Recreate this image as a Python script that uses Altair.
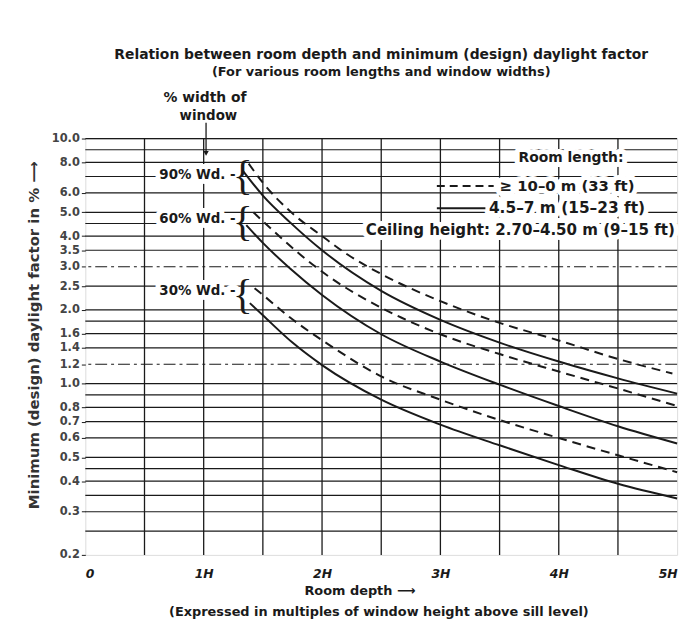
import altair as alt
import pandas as pd

# ---------------- data ----------------
# Room depth (multiples of window height H) and minimum daylight factor (%)
# 90 % window width
x90_long = [1.38, 1.5, 1.75, 2.0, 2.2, 2.5, 3.0, 3.5, 4.0, 4.5, 4.96]
y90_long = [7.9, 6.6, 4.95, 4.0, 3.4, 2.8, 2.17, 1.77, 1.5, 1.26, 1.1]
x90_short = [1.33, 1.5, 1.73, 2.0, 2.5, 3.0, 3.5, 4.0, 4.5, 5.0]
y90_short = [7.4, 5.85, 4.55, 3.5, 2.39, 1.82, 1.47, 1.23, 1.05, 0.91]
# 60 % window width
x60_long = [1.42, 1.5, 1.65, 1.82, 2.05, 2.5, 3.0, 3.5, 4.0, 4.5, 5.0]
y60_long = [5.0, 4.6, 3.95, 3.35, 2.75, 2.04, 1.59, 1.32, 1.12, 0.955, 0.81]
x60_short = [1.36, 1.5, 1.73, 2.0, 2.5, 3.0, 3.5, 4.0, 4.5, 5.0]
y60_short = [4.43, 3.75, 2.95, 2.3, 1.59, 1.23, 0.99, 0.81, 0.67, 0.57]
# 30 % window width
x30_long = [1.43, 1.5, 1.73, 2.05, 2.5, 3.0, 3.5, 4.0, 4.5, 5.0]
y30_long = [2.45, 2.3, 1.86, 1.45, 1.07, 0.86, 0.71, 0.6, 0.51, 0.435]
x30_short = [1.39, 1.5, 1.75, 2.0, 2.5, 3.0, 3.5, 4.0, 4.5, 5.0]
y30_short = [2.13, 1.9, 1.47, 1.19, 0.86, 0.68, 0.56, 0.465, 0.39, 0.34]

y_labels = [10.0, 8.0, 6.0, 5.0, 4.0, 3.5, 3.0, 2.5, 2.0, 1.6, 1.4, 1.2,
            1.0, 0.8, 0.7, 0.6, 0.5, 0.4, 0.3, 0.2]
grid_y_solid = [10, 9, 8, 7, 6, 5, 4.5, 4, 3.5, 2.5, 2.0, 1.8, 1.6, 1.4,
                1.0, 0.9, 0.8, 0.7, 0.6, 0.5, 0.45, 0.4, 0.35, 0.3, 0.25]
grid_y_dashdot = [3.0, 1.2]
grid_x = [0.5, 1, 1.5, 2, 2.5, 3, 3.5, 4, 4.5]
x_labels = [0, 1, 2, 3, 4, 5]

# ---------------- tables ----------------
rows = []
for name, style, xs, ys in [
    ("90L", "long", x90_long, y90_long), ("90S", "short", x90_short, y90_short),
    ("60L", "long", x60_long, y60_long), ("60S", "short", x60_short, y60_short),
    ("30L", "long", x30_long, y30_long), ("30S", "short", x30_short, y30_short),
]:
    for a, b in zip(xs, ys):
        rows.append({"x": a, "y": b, "curve": name, "style": style})
curves = pd.DataFrame(rows)

xscale = alt.Scale(domain=[0, 5], nice=False, zero=False)
yscale = alt.Scale(type="log", domain=[0.2, 10], nice=False)

FONT = "DejaVu Sans"
INK = "#1a1a1a"

# invisible layer that carries both axes
axes_layer = alt.Chart(curves).mark_point(opacity=0).encode(
    x=alt.X("x:Q", scale=xscale,
            axis=alt.Axis(values=x_labels, grid=False, ticks=False, domain=False,
                          labelExpr="datum.value == 0 ? '0' : datum.value + 'H'",
                          labelFont=FONT, labelFontSize=12.5, labelFontWeight="bold",
                          labelFontStyle="italic", labelColor=INK, labelPadding=13,
                          title=None)),
    y=alt.Y("y:Q", scale=yscale,
            axis=alt.Axis(values=y_labels, format=".1f", grid=False, domain=False,
                          tickSize=4, tickColor=INK, labelFont=FONT, labelFontSize=11.5,
                          labelFontWeight="bold", labelColor="#444", labelPadding=2,
                          title="Minimum (design) daylight factor in % \u27f6",
                          titleFont=FONT, titleFontSize=15, titleFontWeight="bold",
                          titleColor="#333", titleAngle=270, titleX=-52, titleY=198,
                          titleAlign="center", titleBaseline="middle")),
)

hgrid = alt.Chart(pd.DataFrame({"v": grid_y_solid})).mark_rule(
    color=INK, strokeWidth=1.2
).encode(y=alt.Y("v:Q", scale=yscale))

hgrid2 = alt.Chart(pd.DataFrame({"v": grid_y_dashdot})).mark_rule(
    color=INK, strokeWidth=1.1, strokeDash=[12, 4, 3, 4]
).encode(y=alt.Y("v:Q", scale=yscale))

vgrid = alt.Chart(pd.DataFrame({"v": grid_x})).mark_rule(
    color=INK, strokeWidth=1.3
).encode(x=alt.X("v:Q", scale=xscale))

# annotations (positions in data units)
ann_left = pd.DataFrame({
    "tx": [0.66, 3.66, 3.50, 3.41, 2.37],
    "ty": [14.6, 8.35, 6.4, 5.2, 4.23],
    "t": ["% width of", "Room length:", "\u2265 10\u20130 m (33 ft)",
          "4.5\u20137 m (15\u201323 ft)",
          "Ceiling height: 2.70\u20134.50 m (9\u201315 ft)"],
    "fs": [14, 14, 15, 15.5, 15.2],
})
ann_right = pd.DataFrame({
    "tx": [1.27, 1.27, 1.27],
    "ty": [7.1, 4.7, 2.38],
    "t": ["90% Wd. -", "60% Wd. -", "30% Wd. -"],
    "fs": [13.5, 13.5, 13.5],
})
ann_center = pd.DataFrame({
    "tx": [1.04, 2.32, 2.48],
    "ty": [12.3, 0.143, 0.117],
    "t": ["window", "Room depth \u27f6",
          "(Expressed in multiples of window height above sill level)"],
    "fs": [13.5, 13, 13],
})
braces = pd.DataFrame({"tx": [1.33, 1.33, 1.33], "ty": [7.0, 4.55, 2.3],
                       "t": ["{", "{", "{"]})


def text_layer(df, align, halo):
    kw = dict(font=FONT, fontWeight="bold", align=align, baseline="middle")
    if halo:
        m = alt.Chart(df).mark_text(color="white", stroke="white",
                                    strokeWidth=10, strokeJoin="round", **kw)
    else:
        m = alt.Chart(df).mark_text(color=INK, **kw)
    return m.encode(
        x=alt.X("tx:Q", scale=xscale),
        y=alt.Y("ty:Q", scale=yscale),
        text="t:N",
        size=alt.Size("fs:Q", scale=None, legend=None),
    )


halos = [text_layer(d, a, True) for d, a in
         [(ann_left, "left"), (ann_right, "right")]]
texts = [text_layer(d, a, False) for d, a in
         [(ann_left, "left"), (ann_right, "right"), (ann_center, "center")]]

brace_layer = alt.Chart(braces).mark_text(
    font="Liberation Serif", fontSize=42, fontWeight="normal", color=INK,
    baseline="middle", align="center"
).encode(
    x=alt.X("tx:Q", scale=xscale),
    y=alt.Y("ty:Q", scale=yscale),
    text="t:N",
)

# legend samples
leg = pd.DataFrame({"x1": [2.97, 2.97], "x2": [3.45, 3.38], "yy": [6.4, 5.2],
                    "style": ["long", "short"]})
leg_long = alt.Chart(leg[leg["style"] == "long"]).mark_rule(
    color=INK, strokeWidth=2, strokeDash=[8, 5]
).encode(x=alt.X("x1:Q", scale=xscale), x2="x2:Q",
         y=alt.Y("yy:Q", scale=yscale))
leg_short = alt.Chart(leg[leg["style"] == "short"]).mark_rule(
    color=INK, strokeWidth=2
).encode(x=alt.X("x1:Q", scale=xscale), x2="x2:Q",
         y=alt.Y("yy:Q", scale=yscale))

# arrow from "window" down to the 90 % label
arrow_df = pd.DataFrame({"ax": [1.02], "y1": [11.6], "y2": [8.7]})
arrow_line = alt.Chart(arrow_df).mark_rule(color=INK, strokeWidth=1.3).encode(
    x=alt.X("ax:Q", scale=xscale),
    y=alt.Y("y1:Q", scale=yscale), y2="y2:Q")
arrow_head = alt.Chart(arrow_df).mark_point(
    shape="triangle-down", filled=True, color=INK, size=30, opacity=1
).encode(x=alt.X("ax:Q", scale=xscale),
         y=alt.Y("y2:Q", scale=yscale))

solid = alt.Chart(curves[curves["style"] == "short"]).mark_line(
    color=INK, strokeWidth=2, interpolate="monotone"
).encode(
    x=alt.X("x:Q", scale=xscale),
    y=alt.Y("y:Q", scale=yscale),
    detail="curve:N",
)
dashed = alt.Chart(curves[curves["style"] == "long"]).mark_line(
    color=INK, strokeWidth=2, strokeDash=[9, 6], interpolate="monotone"
).encode(
    x=alt.X("x:Q", scale=xscale),
    y=alt.Y("y:Q", scale=yscale),
    detail="curve:N",
)

chart = alt.layer(
    axes_layer, hgrid, hgrid2, vgrid, *halos, *texts, brace_layer, leg_long,
    leg_short, arrow_line, arrow_head, solid, dashed,
).properties(
    width=597, height=420,
    padding={"left": 78, "top": 129, "right": 15, "bottom": 64},
    autosize=alt.AutoSizeParams(type="none"),
    title=alt.TitleParams(
        text="Relation between room depth and minimum (design) daylight factor",
        subtitle="(For various room lengths and window widths)",
        font=FONT, fontSize=14, fontWeight="bold", color=INK,
        subtitleFont=FONT, subtitleFontSize=13, subtitleFontWeight="bold",
        subtitleColor=INK, subtitlePadding=5, anchor="middle", offset=12,
    ),
).configure_view(stroke=INK, strokeWidth=1.6).configure(background="white")

chart.save("out.html", embed_options={"renderer": "svg", "actions": False})
